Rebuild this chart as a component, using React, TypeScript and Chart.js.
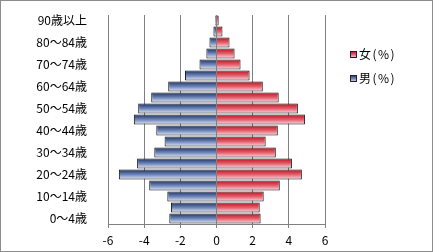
import React, { useEffect, useRef } from "react";
import { Chart, registerables } from "chart.js";

Chart.register(...registerables);

const categories = [
  "0～4歳", "5～9歳", "10～14歳", "15～19歳", "20～24歳", "25～29歳", "30～34歳",
  "35～39歳", "40～44歳", "45～49歳", "50～54歳", "55～59歳", "60～64歳",
  "65～69歳", "70～74歳", "75～79歳", "80～84歳", "85～89歳", "90歳以上",
];
const female = [2.44, 2.39, 2.61, 3.5, 4.72, 4.17, 3.28, 2.72, 3.39, 4.89, 4.5, 3.44, 2.56, 1.83, 1.33, 1.0, 0.72, 0.33, 0.12];
const male = [-2.61, -2.52, -2.72, -3.72, -5.4, -4.39, -3.44, -2.87, -3.33, -4.57, -4.33, -3.61, -2.67, -1.74, -0.94, -0.56, -0.39, -0.17, -0.07];
const xMin = -6;
const xMax = 6;
const xStep = 2;
const femaleLabel = "女(%)";
const maleLabel = "男(%)";

const FONT = "'Noto Sans CJK JP', 'Noto Sans', sans-serif";
const maleStops: [number, string][] = [[0, "#1a3063"], [0.5, "#6d84b6"], [1, "#e6ebf6"]];
const femaleStops: [number, string][] = [[0, "#c00d1a"], [0.5, "#e2606e"], [1, "#f8dee4"]];

function grad(ctx: CanvasRenderingContext2D, y0: number, y1: number, stops: [number, string][]) {
  const g = ctx.createLinearGradient(0, y0, 0, y1);
  stops.forEach(([o, c]) => g.addColorStop(o, c));
  return g;
}

function barFill(stops: [number, string][]) {
  return (c: any) => {
    const chart = c.chart;
    const ys = chart.scales && chart.scales.y;
    if (!ys || !chart.chartArea || typeof c.dataIndex !== "number") return stops[1][1];
    const yc = ys.getPixelForValue(c.dataIndex);
    if (!isFinite(yc)) return stops[1][1];
    return grad(chart.ctx, yc - 5, yc + 5, stops);
  };
}

const legendPlugin = {
  id: "customLegend",
  afterDraw(chart: any) {
    const ctx = chart.ctx as CanvasRenderingContext2D;
    const items: [string, [number, string][], number][] = [
      [femaleLabel, femaleStops, 53],
      [maleLabel, maleStops, 77],
    ];
    ctx.save();
    items.forEach(([label, stops, y]) => {
      const x = 349;
      ctx.fillStyle = grad(ctx, y - 3, y + 4, stops);
      ctx.fillRect(x, y - 3, 7, 7);
      ctx.strokeStyle = "#222";
      ctx.lineWidth = 1;
      ctx.strokeRect(x + 0.5, y - 2.5, 6, 6);
      ctx.fillStyle = "#000";
      ctx.font = `12px ${FONT}`;
      (ctx as any).letterSpacing = "1.5px";
      ctx.textBaseline = "middle";
      ctx.fillText(label, x + 9, y);
    });
    ctx.restore();
  },
};

export default function App() {
  const ref = useRef<HTMLCanvasElement>(null);
  useEffect(() => {
    if (!ref.current) return;
    const chart = new Chart(ref.current, {
      type: "bar",
      data: {
        labels: categories,
        datasets: [
          {
            label: maleLabel,
            data: male,
            backgroundColor: barFill(maleStops) as any,
            borderColor: "#111",
            borderWidth: 1,
            barPercentage: 0.93,
            categoryPercentage: 1,
          },
          {
            label: femaleLabel,
            data: female,
            backgroundColor: barFill(femaleStops) as any,
            borderColor: "#111",
            borderWidth: 1,
            barPercentage: 0.93,
            categoryPercentage: 1,
          },
        ],
      },
      options: {
        indexAxis: "y",
        animation: false,
        responsive: true,
        maintainAspectRatio: false,
        layout: { padding: { left: 0, right: 107, top: 14, bottom: 0 } },
        plugins: { legend: { display: false }, tooltip: { enabled: false } },
        scales: {
          x: {
            stacked: true,
            min: xMin,
            max: xMax,
            afterFit: (s: any) => {
              s.height = 27;
            },
            grid: { color: "#808080", tickLength: 4 },
            border: { display: true, color: "#808080" },
            ticks: {
              stepSize: xStep,
              color: "#000",
              font: { family: FONT, size: 12 },
              padding: 5,
            },
          },
          y: {
            stacked: true,
            reverse: true,
            afterFit: (s: any) => {
              s.width = 107;
              s.paddingTop = 0;
              s.paddingBottom = 0;
            },
            grid: { display: false },
            border: { display: false },
            ticks: {
              autoSkip: false,
              color: "#000",
              font: { family: FONT, size: 12 },
              padding: 13,
              callback: (_v: any, i: number) => (i % 2 === 0 ? categories[i] : ""),
            },
          },
        },
      },
      plugins: [legendPlugin],
    });
    return () => chart.destroy();
  }, []);
  return (
    <div
      style={{
        position: "absolute",
        left: 0,
        top: 0,
        width: 433,
        height: 252,
        boxSizing: "border-box",
        border: "1px solid #8c8c8c",
        background: "#fff",
      }}
    >
      <canvas ref={ref} />
    </div>
  );
}
